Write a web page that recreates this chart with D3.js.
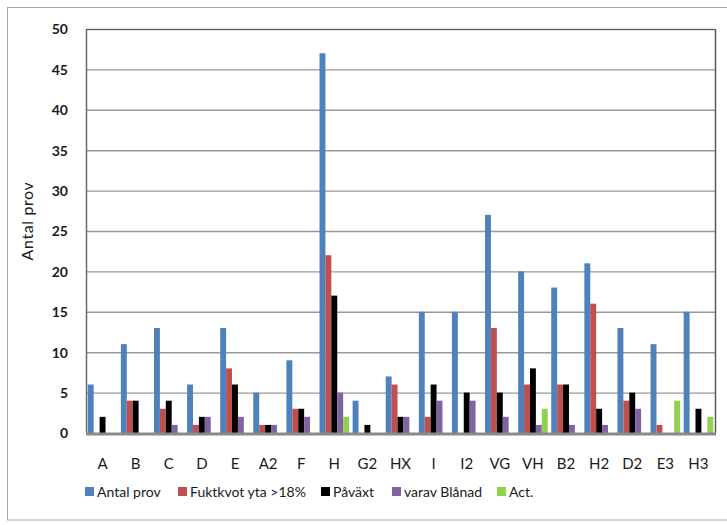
<!DOCTYPE html>
<html><head><meta charset="utf-8">
<script src="https://cdn.jsdelivr.net/npm/d3@7"></script>
<style>body{margin:0;background:#fff;} text{font-family:Lato,"Open Sans",sans-serif;fill:#1a1a1a;}</style>
</head><body>
<svg id="c" width="727" height="525"></svg>
<script>
const categories = ["A","B","C","D","E","A2","F","H","G2","HX","I","I2","VG","VH","B2","H2","D2","E3","H3"];
const seriesNames = ["Antal prov","Fuktkvot yta >18%","Påväxt","varav Blånad","Act."];
const antalProv   = [6,11,13,6,13,5,9,47,4,7,15,15,27,20,18,21,13,11,15];
const fuktkvot    = [0,4,3,1,8,1,3,22,0,6,2,0,13,6,6,16,4,1,0];
const pavaxt      = [2,4,4,2,6,1,3,17,1,2,6,5,5,8,6,3,5,0,3];
const blanad      = [0,0,1,2,2,1,2,5,0,2,4,4,2,1,1,1,3,0,0];
const act         = [0,0,0,0,0,0,0,2,0,0,0,0,0,3,0,0,0,4,2];
const yTicks = [0,5,10,15,20,25,30,35,40,45,50];
const colors = ["#4F81BD","#C0504D","#000000","#8064A2","#92D050"];
const series = [antalProv, fuktkvot, pavaxt, blanad, act];

const svg = d3.select("#c");
// outer border
svg.append("rect").attr("x",7.5).attr("y",7.5).attr("width",740).attr("height",512.5)
  .attr("fill","none").attr("stroke","#a6a6a6").attr("stroke-width",1);

const L=86, R=715, T=29, B=433;
const x = d3.scaleBand().domain(categories).range([L,R]).paddingInner(0).paddingOuter(0);
const y = d3.scaleLinear().domain([0,50]).range([B,T]);
const x1 = d3.scaleBand().domain(d3.range(5)).range([0,x.bandwidth()]).paddingOuter(0.3).paddingInner(0);

// gridlines
svg.append("g").selectAll("line").data(yTicks.filter(d=>d>0)).join("line")
  .attr("x1",L).attr("x2",R).attr("y1",d=>y(d)+0.5).attr("y2",d=>y(d)+0.5)
  .attr("stroke","#999999").attr("stroke-width",1.4);

// bars
const g = svg.append("g");
series.forEach((vals,si)=>{
  g.append("g").selectAll("rect").data(vals.map((v,i)=>({c:categories[i],v}))).join("rect")
    .attr("x",d=>x(d.c)+x1(si)).attr("width",x1.bandwidth())
    .attr("y",d=>y(d.v)).attr("height",d=>B-y(d.v))
    .attr("fill",colors[si]);
});

// plot frame
svg.append("line").attr("x1",R+0.5).attr("x2",R+0.5).attr("y1",T).attr("y2",B).attr("stroke","#5a5a5a").attr("stroke-width",1.5);
svg.append("line").attr("x1",L).attr("x2",R).attr("y1",T+0.5).attr("y2",T+0.5).attr("stroke","#5a5a5a").attr("stroke-width",1.2);
svg.append("line").attr("x1",L+0.5).attr("x2",L+0.5).attr("y1",T).attr("y2",B).attr("stroke","#6a6a6a").attr("stroke-width",1.5);
svg.append("line").attr("x1",L).attr("x2",R+1).attr("y1",B+1).attr("y2",B+1).attr("stroke","#8a8a8a").attr("stroke-width",3);

// y axis labels
const yAxis = d3.axisLeft(y).tickValues(yTicks).tickSize(0).tickPadding(0);
const ya = svg.append("g").attr("transform",`translate(${L-18},0)`).call(yAxis);
ya.select(".domain").remove();
ya.selectAll("text").style("font-size","14px").style("font-weight","bold").attr("fill","#1a1a2a").attr("dy","0.35em");

// x labels
const xAxis = d3.axisBottom(x).tickSize(0).tickPadding(0);
const xa = svg.append("g").attr("transform",`translate(0,${B+25})`).call(xAxis);
xa.select(".domain").remove();
xa.selectAll("text").style("font-size","15px").attr("fill","#1a1a2a");

// y title
svg.append("text").attr("transform","translate(33,221) rotate(-90)").attr("text-anchor","middle")
  .style("font-size","16px").style("letter-spacing","0.6px").text("Antal prov");

// legend
const legX = [85,178,321,392,497];
const leg = svg.append("g").attr("transform","translate(0,492)");
seriesNames.forEach((n,i)=>{
  leg.append("rect").attr("x",legX[i]).attr("y",-5).attr("width",9).attr("height",9).attr("fill",colors[i]);
  leg.append("text").attr("x",legX[i]+12).attr("y",0).attr("dy","0.35em").style("font-size","14px").text(n);
});
</script>
</body></html>
